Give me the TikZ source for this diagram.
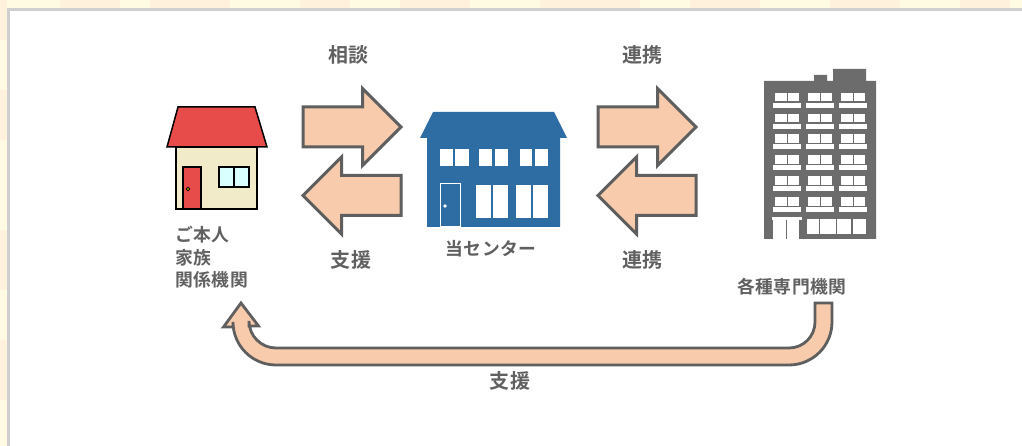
\documentclass[tikz,border=0pt]{standalone}
\usepackage{fontspec}
\newfontfamily\jpfont[LetterSpace=3]{Noto Sans CJK JP Bold}
\usetikzlibrary{shapes.arrows}
\definecolor{cream}{HTML}{FFFBE2}
\definecolor{blotch}{HTML}{FFF1DC}
\definecolor{panelline}{HTML}{CFCFCF}
\definecolor{peach}{HTML}{F7CBAC}
\definecolor{arrowline}{HTML}{5F5F5F}
\definecolor{labelgray}{HTML}{606060}
\definecolor{roofred}{HTML}{E84C4A}
\definecolor{wallcream}{HTML}{F2EBC9}
\definecolor{glass}{HTML}{D9FFFF}
\definecolor{centerblue}{HTML}{2E6DA4}
\definecolor{towergray}{HTML}{6C6C6C}

\begin{document}
\begin{tikzpicture}[x=1pt,y=-1pt,
    bigtext/.style={text=labelgray,font=\jpfont\fontsize{20}{24}\selectfont,inner sep=0pt},
    smalltext/.style={text=labelgray,font=\jpfont\fontsize{17.8}{22.5}\selectfont,inner sep=0pt},
    blockarrow/.style={single arrow,draw=arrowline,fill=peach,line width=3pt,
                       minimum height=98pt,inner sep=18.5pt,
                       single arrow head extend=18.5pt,single arrow tip angle=90,
                       anchor=center},
    bandarrow/.style={draw=arrowline,fill=peach,line width=2.8pt,line join=miter},
    outlined/.style={draw=black,line width=1.5pt,line join=miter}]

  % page and panel
  \useasboundingbox (0,0) rectangle (1022,446);
  \fill[cream] (0,0) rectangle (1022,446);
  \foreach \xa/\xb in {60/120,150/230,300/350,400/470,540/640,690/760,830/900,960/1010}
    \fill[blotch] (\xa,0) rectangle (\xb,8);
  \foreach \ya/\yb in {0/40,90/140,230/290,340/400}
    \fill[blotch] (0,\ya) rectangle (7,\yb);
  \draw[panelline,fill=white,line width=3pt] (8.5,9.5) rectangle (1030,460);

  % own house
  \draw[outlined,fill=wallcream] (176,147) rectangle (257,209);
  \draw[outlined,fill=roofred] (178,107) -- (255,107) -- (267,147) -- (167,147) -- cycle;
  \draw[outlined,fill=roofred] (183,167) rectangle (201,209);
  \draw[fill=yellow,line width=.8pt] (188,189) circle (1.8);
  \draw[outlined,fill=glass] (219,167) rectangle (249,187);
  \draw[outlined] (234,167) -- (234,187);

  % center building
  \fill[centerblue] (433,112) -- (554,112) -- (567,138) -- (560,138) -- (560,227)
        -- (427,227) -- (427,138) -- (420,138) -- cycle;
  \foreach \xa/\xb in {440/453,455/469,479/492,495/508,520/532,535/548}
    \fill[white] (\xa,149) rectangle (\xb,166);
  \foreach \xa/\xb in {476/491,493/508,516/531,533/548}
    \fill[white] (\xa,185) rectangle (\xb,218);
  \draw[white,line width=1pt] (440.5,227) -- (440.5,184) -- (460.5,184) -- (460.5,227) -- cycle;
  \fill[white] (445,206) circle (1.8);

  % tower
  \fill[towergray] (764,81) -- (814,81) -- (814,75) -- (827,75) -- (827,81) -- (833,81)
        -- (833,69) -- (866,69) -- (866,81) -- (876,81) -- (876,239) -- (764,239) -- cycle;
  \foreach \row in {0,...,5}
    \foreach \col in {775,808,841} {
      \pgfmathsetmacro{\ytop}{92.7+20.9*\row}
      \fill[white] (\col,\ytop) rectangle ++(11.5,8.5);
      \fill[white] (\col+12.5,\ytop) rectangle ++(11.5,8.5);
      \fill[white] (\col-2,\ytop+10) rectangle ++(28,5);
    }
  \fill[white] (772,217) rectangle (802,220);
  \fill[white] (773,220) rectangle (786,239);
  \fill[white] (787,220) rectangle (799,239);
  \foreach \xa/\xb in {807/819,820/836,837/851,853/866}
    \fill[white] (\xa,219) rectangle (\xb,234);

  % block arrows
  \node[blockarrow] (askarrow) at (342,127) {};
  \node[blockarrow,shape border rotate=180] (helparrow) at (362,195.5) {};
  \node[blockarrow] (linkarrow) at (637,127) {};
  \node[blockarrow,shape border rotate=180] (backarrow) at (657,195.5) {};

  % long arrow
  \coordinate (supporttip) at (241,303);
  \draw[bandarrow] (supporttip) -- ++(17.5,23) -- ++(-9.5,0) -- ++(0,-5)
      arc[start angle=180,end angle=90,radius=27] -- ++(513,0)
      arc[start angle=90,end angle=0,radius=26] -- ++(0,-19) -- ++(17,0) -- ++(0,19)
      arc[start angle=0,end angle=90,radius=43] -- ++(-513,0)
      arc[start angle=90,end angle=180,radius=43] -- ++(0,5) -- ++(-9.5,0) -- cycle;

  % labels
  \node[bigtext] (asklabel) at (348.5,55) {相談};
  \node[bigtext] (helplabel) at (351,260) {支援};
  \node[bigtext] (linklabel) at (642.5,55) {連携};
  \node[bigtext] (backlabel) at (642.5,260) {連携};
  \node[bigtext] (supportlabel) at (510,381) {支援};
  \node[smalltext] (centerlabel) at (491,249) {当センター};
  \node[smalltext] (expertlabel) at (792,287) {各種専門機関};
  \node[smalltext,align=left,anchor=north west] (selflabel) at (175,226)
      {ご本人\\家族\\関係機関};
\end{tikzpicture}
\end{document}
